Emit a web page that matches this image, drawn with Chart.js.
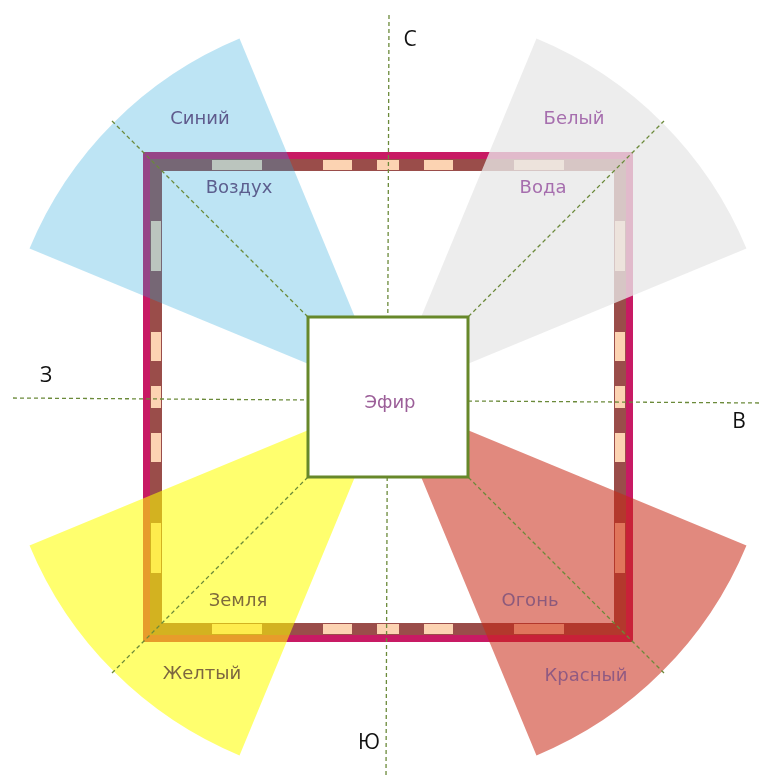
<!DOCTYPE html>
<html lang="ru">
<head>
<meta charset="UTF-8">
<title>Стихии и стороны света</title>
<script src="https://cdn.jsdelivr.net/npm/chart.js"></script>
<style>
  html, body { margin: 0; padding: 0; background: #fff; overflow: hidden; }
  #wrap { position: relative; width: 762px; height: 778px; overflow: hidden; }
  canvas { position: absolute; }
</style>
</head>
<body>
<div id="wrap">
  <canvas id="frame" width="762" height="778" style="left:0;top:0"></canvas>
  <canvas id="sectors" width="776" height="776" style="left:0;top:9px"></canvas>
  <canvas id="axes" width="762" height="778" style="left:0;top:0"></canvas>
</div>
<script>
// единицы = пиксели от центра схемы, ось y вверх
const compass = ['С', 'В', 'Ю', 'З'];
const elements = ['Воздух', 'Вода', 'Огонь', 'Земля'];
const colourNames = ['Синий', 'Белый', 'Красный', 'Желтый'];
const centerName = 'Эфир';
// секторы по часовой стрелке от севера: С, СВ, В, ЮВ, Ю, ЮЗ, З, СЗ
const sectorSizes = [45, 45, 45, 45, 45, 45, 45, 45];
const etherHalf = 80;
const frameHalf = 245;
const frameDashes = [[-176, -126], [-65, -36], [-11, 11], [36, 65], [126, 176]];
const axisVertical = [[1, 382], [-2, -381]];
const axisHorizontal = [[-375, -1], [374, -6]];
const diagonalReach = 276;

// где стоят подписи
const compassPos = [[22, 357], [351, -25], [-19, -346], [-342, 21]];
const elementPos = [[-149, 209], [155, 209], [142, -204], [-150, -204]];
const colourPos = [[-188, 278], [186, 278], [198, -279], [-186, -277]];
const elementColors = ['#5c5e8e', '#a66eae', '#8c5a7c', '#7e6a3c'];
const colourNameColors = ['#5f5a8c', '#a66eae', '#905a82', '#7c6640'];

const sectorColors = [
  'rgba(0,0,0,0)', 'rgba(232,232,232,0.78)',
  'rgba(0,0,0,0)', 'rgba(200,40,20,0.55)',
  'rgba(0,0,0,0)', 'rgba(255,255,0,0.57)',
  'rgba(0,0,0,0)', 'rgba(35,165,220,0.3)'
];

function square(h) {
  return [{x: -h, y: h}, {x: h, y: h}, {x: h, y: -h}, {x: -h, y: -h}, {x: -h, y: h}];
}

function dashSegments(h) {
  const pts = [];
  frameDashes.forEach(([a, b]) => {
    pts.push({x: a, y: h}, {x: b, y: h}, {x: null, y: null});
    pts.push({x: a, y: -h}, {x: b, y: -h}, {x: null, y: null});
    pts.push({x: h, y: a}, {x: h, y: b}, {x: null, y: null});
    pts.push({x: -h, y: a}, {x: -h, y: b}, {x: null, y: null});
  });
  return pts;
}

const pxScales = {
  x: {type: 'linear', min: -388, max: 374, display: false},
  y: {type: 'linear', min: -381, max: 397, display: false}
};
const common = {
  responsive: false,
  animation: false,
  events: [],
  layout: {padding: 0},
  plugins: {legend: {display: false}, tooltip: {enabled: false}}
};

// рамка
new Chart(document.getElementById('frame'), {
  type: 'scatter',
  data: {
    datasets: [
      {data: dashSegments(frameHalf - 13), showLine: true, spanGaps: false, borderColor: '#fcd3b2',
       borderWidth: 10, pointRadius: 0, borderCapStyle: 'butt', order: 0},
      {data: square(frameHalf - 13), showLine: true, borderColor: '#9a4d4a', borderWidth: 12,
       pointRadius: 0, borderJoinStyle: 'miter', borderCapStyle: 'square', order: 1},
      {data: square(frameHalf - 3.5), showLine: true, borderColor: '#c81a64', borderWidth: 7,
       pointRadius: 0, borderJoinStyle: 'miter', borderCapStyle: 'square', order: 2}
    ]
  },
  options: Object.assign({}, common, {scales: pxScales})
});

// цветные секторы
new Chart(document.getElementById('sectors'), {
  type: 'doughnut',
  data: {
    labels: ['', 'Белый', '', 'Красный', '', 'Желтый', '', 'Синий'],
    datasets: [{
      data: sectorSizes,
      backgroundColor: sectorColors,
      borderWidth: 0,
      hoverBorderWidth: 0,
      hoverOffset: 0
    }]
  },
  options: Object.assign({}, common, {rotation: -22.5, cutout: 86})
});

const textPlugin = {
  id: 'texts',
  afterDatasetsDraw(chart) {
    const {ctx, scales: {x, y}} = chart;
    const put = (txt, p, font, color) => {
      ctx.font = font;
      ctx.fillStyle = color;
      ctx.fillText(txt, x.getPixelForValue(p[0]), y.getPixelForValue(p[1]));
    };
    ctx.save();
    ctx.textAlign = 'center';
    ctx.textBaseline = 'middle';
    elements.forEach((t, i) => put(t, elementPos[i], '18px "DejaVu Sans"', elementColors[i]));
    colourNames.forEach((t, i) => put(t, colourPos[i], '18px "DejaVu Sans"', colourNameColors[i]));
    put(centerName, [2, -6], '18px "DejaVu Sans"', '#9b5e98');
    compass.forEach((t, i) => put(t, compassPos[i], '21px "Open Sans"', '#111111'));
    ctx.restore();
  }
};

const dashed = pts => ({
  data: pts.map(p => ({x: p[0], y: p[1]})), showLine: true, borderColor: '#6b8a3a',
  borderWidth: 1.3, borderDash: [4, 3], pointRadius: 0, order: 1
});

// оси, диагонали и центральный квадрат
new Chart(document.getElementById('axes'), {
  type: 'scatter',
  data: {
    datasets: [
      {data: square(etherHalf), showLine: true, fill: 'shape', backgroundColor: '#ffffff',
       borderColor: '#67882a', borderWidth: 3, pointRadius: 0, borderJoinStyle: 'miter',
       borderCapStyle: 'square', order: 0},
      dashed(axisVertical),
      dashed(axisHorizontal),
      dashed([[-diagonalReach, diagonalReach], [diagonalReach, -diagonalReach]]),
      dashed([[-diagonalReach, -diagonalReach], [diagonalReach, diagonalReach]])
    ]
  },
  options: Object.assign({}, common, {scales: pxScales}),
  plugins: [textPlugin]
});
</script>
</body>
</html>
